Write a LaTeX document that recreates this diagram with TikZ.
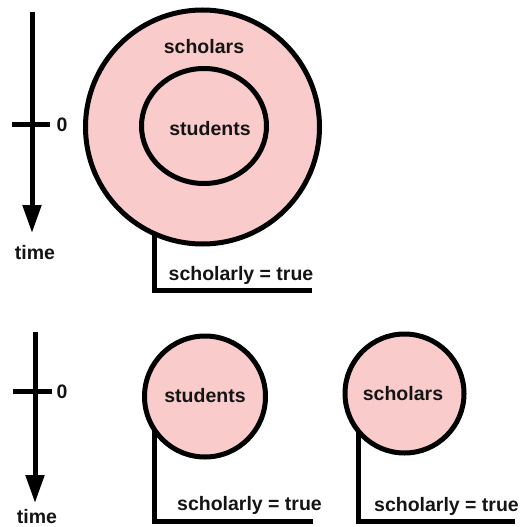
\documentclass[tikz,border=0pt]{standalone}
\usepackage{fontspec}
\setmainfont{Liberation Sans}
\usetikzlibrary{arrows.meta,shapes.geometric}
\definecolor{pinkfill}{RGB}{250,203,203}
\definecolor{ink}{RGB}{20,20,20}
\begin{document}
\begin{tikzpicture}[x=1pt,y=-1pt,
  thickline/.style={line width=5pt, draw=black},
  ring/.style={circle, draw=black, line width=5pt, fill=pinkfill, inner sep=0pt, outer sep=0pt},
  oval/.style={ellipse, draw=black, line width=5pt, fill=pinkfill, inner sep=0pt, outer sep=0pt},
  lbl/.style={text=ink, font=\fontsize{19.5}{22}\selectfont\bfseries, inner sep=0pt, text height=14pt, text depth=0pt, anchor=center},
  timearrow/.style={line width=5pt, -{Triangle[width=18pt,length=28pt]}},
  bracket/.style={line width=5pt, line join=miter}
]
\useasboundingbox (0,0) rectangle (522,527);

% ---------- top panel ----------
\coordinate (ta1) at (32,12);
\coordinate (ta2) at (32,233);
\draw[timearrow] (ta1) -- (ta2);
\coordinate (tk1) at (12,124);
\coordinate (tk2) at (50,124);
\draw[thickline] (tk1) -- (tk2);
\node[lbl] (zero1) at (62,124) {0};
\node[lbl] (time1) at (35,252) {time};

\node[ring, minimum size=234pt] (big) at (202.5,127) {};
\node[oval, minimum width=125pt, minimum height=115pt] (inner) at (204,126) {};
\node[lbl] (scholarsTop) at (204,46) {scholars};
\node[lbl] (studentsTop) at (210,128) {students};

\coordinate (c1) at (312,290);
\draw[bracket] (big.246.6) -- (big.246.6 |- c1) -- (c1);
\node[lbl] (sch1) at (241,273) {scholarly = true};

% ---------- bottom panel ----------
\coordinate (ba1) at (35,332);
\coordinate (ba2) at (35,503);
\draw[timearrow] (ba1) -- (ba2);
\coordinate (bk1) at (13,391);
\coordinate (bk2) at (52,391);
\draw[thickline] (bk1) -- (bk2);
\node[lbl] (zero2) at (62,391) {0};
\node[lbl] (time2) at (37,516.5) {time};

\node[ring, minimum size=121pt] (stud) at (205,396.5) {};
\node[lbl] (studLbl) at (205,395) {students};
\coordinate (c2) at (313,521);
\draw[bracket] (stud.214.3) -- (stud.214.3 |- c2) -- (c2);
\node[lbl] (sch2) at (249.5,503) {scholarly = true};

\node[ring, minimum size=119pt] (schol) at (404.5,393.5) {};
\node[lbl] (scholLbl) at (403,393) {scholars};
\coordinate (c3) at (515,521);
\draw[bracket] (schol.220.1) -- (schol.220.1 |- c3) -- (c3);
\node[lbl] (sch3) at (446.5,504) {scholarly = true};
\end{tikzpicture}
\end{document}
